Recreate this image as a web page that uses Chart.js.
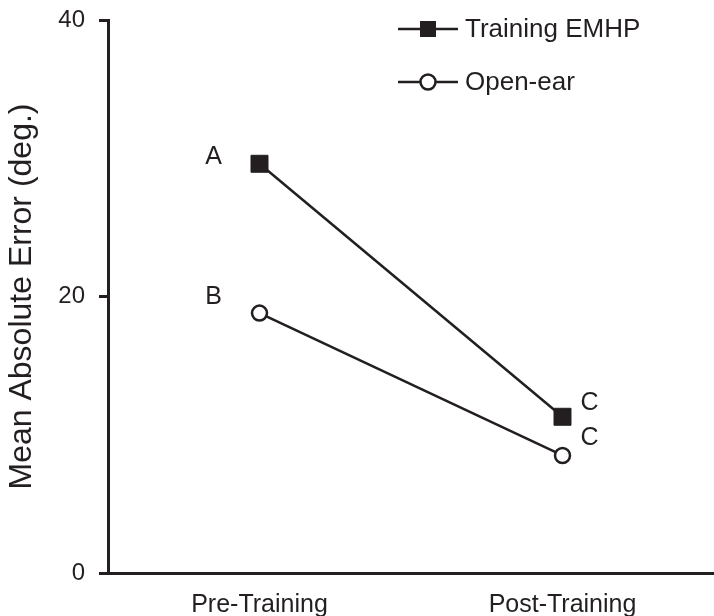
<!DOCTYPE html>
<html lang="en">
<head>
    <meta charset="UTF-8">
    <title>Mean Absolute Error</title>
    <script src="https://cdn.jsdelivr.net/npm/chart.js"></script>
    <style>
        html, body { margin: 0; padding: 0; background: #fff; }
        #wrap { width: 714px; height: 616px; }
    </style>
</head>
<body>
    <div id="wrap"><canvas id="errChart"></canvas></div>

    <script>
        // data
        const phases = ["Pre-Training", "Post-Training"];
        const emhpErr = [29.6, 11.3];
        const openEarErr = [18.8, 8.5];
        const emhpLetters = ["A", "C"];
        const openEarLetters = ["B", "C"];
        const yTicks = [0, 20, 40];

        const ink = "#231f20";
        const fontFam = "'Liberation Sans', Arial, sans-serif";

        // letters next to each point (significance groups)
        const letterPlugin = {
            id: "letters",
            afterDatasetsDraw(chart) {
                const ctx = chart.ctx;
                ctx.save();
                ctx.fillStyle = ink;
                ctx.font = "25px " + fontFam;
                ctx.textAlign = "center";
                ctx.textBaseline = "middle";
                chart.data.datasets.forEach((ds, di) => {
                    const meta = chart.getDatasetMeta(di);
                    meta.data.forEach((pt, i) => {
                        const txt = ds.letters[i];
                        if (i === 0) {
                            ctx.fillText(txt, pt.x - 46, pt.y - (di === 0 ? 7 : 16));
                        } else {
                            ctx.fillText(txt, pt.x + 27, pt.y - (di === 0 ? 14 : 17));
                        }
                    });
                });
                ctx.restore();
            }
        };

        // legend drawn by hand: short line with marker, then text
        const legendPlugin = {
            id: "lineLegend",
            afterDraw(chart) {
                const ctx = chart.ctx;
                ctx.save();
                const rows = [29, 82];
                chart.data.datasets.forEach((ds, di) => {
                    const y = rows[di];
                    ctx.strokeStyle = ink;
                    ctx.lineWidth = 2.5;
                    ctx.beginPath();
                    ctx.moveTo(398, y);
                    ctx.lineTo(458, y);
                    ctx.stroke();
                    if (ds.pointStyle === "rect") {
                        ctx.fillStyle = ink;
                        ctx.fillRect(420, y - 8, 16, 16);
                    } else {
                        ctx.fillStyle = "#fff";
                        ctx.beginPath();
                        ctx.arc(428, y, 7.5, 0, Math.PI * 2);
                        ctx.fill();
                        ctx.stroke();
                    }
                    ctx.fillStyle = ink;
                    ctx.font = "26px " + fontFam;
                    ctx.textAlign = "left";
                    ctx.textBaseline = "middle";
                    ctx.fillText(ds.label, 465, y + 1);
                });
                ctx.restore();
            }
        };

        const ctx = document.getElementById("errChart").getContext("2d");
        new Chart(ctx, {
            type: "line",
            data: {
                labels: phases,
                datasets: [
                    {
                        label: "Training EMHP",
                        data: emhpErr,
                        letters: emhpLetters,
                        borderColor: ink,
                        borderWidth: 2.5,
                        pointStyle: "rect",
                        pointRadius: 12,
                        pointBackgroundColor: ink,
                        pointBorderColor: ink,
                        pointBorderWidth: 1
                    },
                    {
                        label: "Open-ear",
                        data: openEarErr,
                        letters: openEarLetters,
                        borderColor: ink,
                        borderWidth: 2.5,
                        pointStyle: "circle",
                        pointRadius: 7.5,
                        pointBackgroundColor: "#fff",
                        pointBorderColor: ink,
                        pointBorderWidth: 2.5
                    }
                ]
            },
            options: {
                responsive: true,
                maintainAspectRatio: false,
                animation: false,
                layout: { autoPadding: false, padding: { top: 20, right: 0, left: 0, bottom: 0 } },
                plugins: {
                    legend: { display: false },
                    tooltip: { enabled: false }
                },
                scales: {
                    x: {
                        offset: true,
                        grid: { display: false, drawTicks: false },
                        border: { color: ink, width: 3 },
                        ticks: {
                            color: ink,
                            font: { size: 25, family: fontFam },
                            padding: 17
                        },
                        afterFit(scale) {
                            scale.height = 43;
                            scale.paddingLeft = 0;
                            scale.paddingRight = 0;
                        }
                    },
                    y: {
                        min: 0,
                        max: 40,
                        afterBuildTicks(scale) {
                            scale.ticks = yTicks.map(v => ({ value: v }));
                        },
                        grid: {
                            drawOnChartArea: false,
                            tickLength: 9,
                            tickWidth: 3,
                            color: ink
                        },
                        border: { color: ink, width: 3 },
                        ticks: {
                            color: ink,
                            font: { size: 24, family: fontFam },
                            padding: 14
                        },
                        title: {
                            display: true,
                            text: "Mean Absolute Error (deg.)",
                            color: ink,
                            font: { size: 32, family: fontFam },
                            padding: { top: 3, bottom: 0 }
                        },
                        afterFit(scale) {
                            scale.width = 108;
                            scale.paddingTop = 0;
                            scale.paddingBottom = 0;
                        }
                    }
                }
            },
            plugins: [letterPlugin, legendPlugin]
        });
    </script>
</body>
</html>
